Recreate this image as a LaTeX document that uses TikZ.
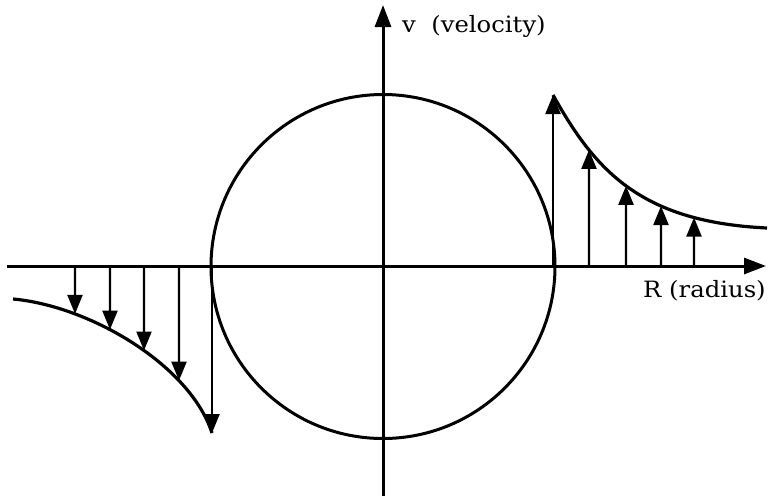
\documentclass[tikz,border=0pt]{standalone}
\usepackage{fontspec}
\newfontfamily\lblfont[FakeStretch=1.08]{DejaVu Serif}
\usetikzlibrary{arrows.meta,intersections}
\tikzset{
  axis/.style={line width=3pt,-{Triangle[length=22pt,width=16pt]}},
  vec/.style={line width=2.2pt,-{Triangle[length=19pt,width=15pt]}},
  prof/.style={line width=3.2pt},
  lbl/.style={font=\lblfont\fontsize{22.5}{26}\selectfont,inner sep=0pt}
}
\begin{document}
\begin{tikzpicture}[x=1pt,y=-1pt]
\useasboundingbox (0,0) rectangle (771,496);
% axes
\coordinate (xs) at (7,266);
\coordinate (xe) at (766,266);
\coordinate (ys) at (383,496);
\coordinate (ye) at (383,5);
\draw[axis] (xs) -- (xe);
\draw[axis] (ys) -- (ye);
% circle
\node[draw,circle,line width=3pt,minimum size=344pt,inner sep=0pt] (circ) at (383,266.5) {};
% labels
\node[lbl,anchor=base west] (vl) at (402,32) {v\ \ (velocity)};
\node[lbl,anchor=base west] (rl) at (643,297) {R (radius)};
% right profile
\coordinate (rstart) at (553,95);
\coordinate (rend) at (767,228);
\draw[prof,name path=curveR] (rstart) .. controls (595,170) and (640,222) .. (rend);
\draw[vec] (553,266) -- (rstart);
\foreach \n/\x in {r2/589, r3/626, r4/661, r5/694}{
  \path[name path=v\n] (\x,100) -- (\x,260);
  \path[name intersections={of=curveR and v\n, by=\n}];
  \coordinate (\n b) at (\x,266);
  \draw[vec] (\n b) -- (\n);
}
% left profile
\coordinate (lstart) at (13,299);
\coordinate (lend) at (212,433);
\draw[prof,name path=curveL] (lstart) .. controls (90,306) and (190,365) .. (lend);
\draw[vec] (212,266) -- (lend);
\foreach \n/\x in {l1/75, l2/110, l3/144, l4/179}{
  \path[name path=v\n] (\x,270) -- (\x,430);
  \path[name intersections={of=curveL and v\n, by=\n}];
  \coordinate (\n b) at (\x,266);
  \draw[vec] (\n b) -- (\n);
}
\end{tikzpicture}
\end{document}
